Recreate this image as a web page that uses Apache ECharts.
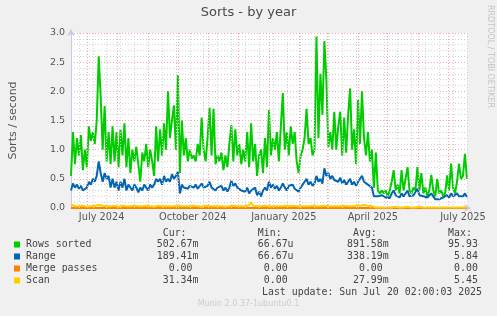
<!DOCTYPE html>
<html>
<head>
<meta charset="utf-8">
<script src="https://cdn.jsdelivr.net/npm/echarts@6/dist/echarts.min.js"></script>
<style>
  html, body { margin: 0; padding: 0; background: #f0f0f0; }
  #chart { width: 497px; height: 316px; }
</style>
</head>
<body>
<div id="chart"></div>
<script>
// munin "Sorts - by year": one sample every 2 days, starting 2024-06-15
const DAY = 86400000;
const startTime = Date.UTC(2024, 5, 15);
const endTime = Date.UTC(2025, 6, 20, 2, 0, 3);
const stepDays = 2;

const rowsSorted = [
  0.55, 1.3, 0.75, 1.2, 0.9, 1.25, 0.65, 1.0, 0.7, 1.4, 1.15, 1.3, 1.1, 1.5,
  2.6, 1.9, 1.0, 1.75, 0.8, 1.3, 0.75, 1.4, 0.8, 1.3, 0.7, 1.35, 0.9, 1.45,
  0.7, 1.2, 0.6, 1.0, 0.8, 1.05, 0.75, 0.45, 0.95, 0.8, 1.1, 0.7, 1.0, 0.8,
  0.55, 1.4, 0.8, 1.35, 0.9, 1.45, 1.0, 2.0, 1.2, 1.5, 1.76, 1.0, 2.28, 0.6,
  1.5, 0.9, 1.2, 0.8, 1.0, 0.85, 0.9, 0.8, 1.1, 0.9, 1.55, 1.0, 0.8, 1.2,
  1.72, 0.9, 1.7, 0.75, 0.9, 0.8, 0.95, 0.65, 0.9, 0.7, 1.1, 1.42, 0.8, 1.35,
  0.9, 1.1, 0.75, 1.0, 0.8, 1.3, 0.7, 1.45, 0.8, 1.1, 0.55, 0.9, 1.0, 0.6,
  1.2, 0.7, 1.68, 0.9, 1.2, 1.0, 1.3, 0.8, 1.4, 1.97, 1.0, 1.3, 0.9, 1.4,
  1.1, 1.3, 0.8, 0.6, 0.9, 1.0, 1.2, 1.7, 1.1, 1.2, 0.9, 1.0, 2.94, 1.2,
  2.3, 1.6, 2.86, 2.2, 1.05, 1.3, 1.0, 1.65, 1.0, 1.4, 1.65, 0.9, 1.55, 0.95,
  1.6, 2.05, 1.0, 1.35, 0.75, 1.85, 1.1, 2.0, 1.2, 0.9, 1.3, 0.8, 1.0, 0.35,
  0.95, 0.3, 0.25, 0.3, 0.25, 0.3, 0.2, 0.3, 0.45, 0.65, 0.3, 0.4, 0.25, 0.65,
  0.3, 0.5, 0.7, 0.3, 0.25, 0.35, 0.3, 0.7, 0.3, 0.6, 0.25, 0.35, 0.2, 0.3,
  0.57, 0.3, 0.2, 0.5, 0.25, 0.3, 0.2, 0.25, 0.56, 0.3, 0.76, 0.35, 0.25, 0.45,
  0.76, 0.5, 0.55, 0.93, 0.5
];

const range = [
  0.3, 0.42, 0.35, 0.4, 0.33, 0.38, 0.3, 0.27, 0.35, 0.45, 0.4, 0.5, 0.45, 0.55,
  0.8, 0.6, 0.45, 0.6, 0.5, 0.55, 0.35, 0.5, 0.35, 0.45, 0.3, 0.45, 0.35, 0.5,
  0.3, 0.4, 0.35, 0.3, 0.4, 0.35, 0.27, 0.35, 0.3, 0.4, 0.35, 0.3, 0.4, 0.35,
  0.4, 0.5, 0.45, 0.5, 0.4, 0.55, 0.45, 0.5, 0.45, 0.58, 0.5, 0.55, 0.62, 0.25,
  0.4, 0.35, 0.38, 0.33, 0.38, 0.35, 0.35, 0.4, 0.33, 0.36, 0.42, 0.35, 0.33, 0.38,
  0.45, 0.35, 0.38, 0.3, 0.35, 0.32, 0.38, 0.3, 0.35, 0.28, 0.35, 0.47, 0.38, 0.42,
  0.35, 0.38, 0.3, 0.33, 0.28, 0.35, 0.25, 0.3, 0.28, 0.35, 0.22, 0.28, 0.2, 0.3,
  0.35, 0.3, 0.45, 0.35, 0.4, 0.33, 0.38, 0.3, 0.35, 0.42, 0.35, 0.3, 0.38, 0.35,
  0.4, 0.33, 0.3, 0.28, 0.35, 0.4, 0.45, 0.5, 0.4, 0.45, 0.38, 0.42, 0.55, 0.45,
  0.5, 0.42, 0.68, 0.55, 0.6, 0.5, 0.55, 0.48, 0.5, 0.45, 0.52, 0.42, 0.48, 0.4,
  0.45, 0.5, 0.4, 0.45, 0.38, 0.45, 0.42, 0.55, 0.45, 0.42, 0.4, 0.38, 0.35, 0.2,
  0.17, 0.2, 0.18, 0.22, 0.2, 0.18, 0.2, 0.17, 0.25, 0.3, 0.22, 0.2, 0.18, 0.25,
  0.2, 0.22, 0.3, 0.2, 0.18, 0.22, 0.25, 0.33, 0.22, 0.25, 0.2, 0.22, 0.18, 0.2,
  0.25, 0.2, 0.15, 0.18, 0.15, 0.13, 0.18, 0.2, 0.22, 0.18, 0.25, 0.2, 0.22, 0.25,
  0.2, 0.23, 0.2, 0.25, 0.19
];

// merge passes stays at zero over the whole year
const mergeDays = [0, 400];
const mergePasses = [0, 0];

const scan = [
  0.06, 0.04, 0.03, 0.04, 0.03, 0.03, 0.04, 0.03, 0.02, 0.04, 0.03, 0.03, 0.04, 0.03, 0.05, 0.03, 0.04, 0.03, 0.03, 0.04, 0.03,
  0.03, 0.04, 0.03, 0.02, 0.03, 0.04, 0.03, 0.03, 0.02, 0.03, 0.03, 0.04, 0.03, 0.03, 0.02, 0.03, 0.03, 0.04, 0.03, 0.03,
  0.03, 0.02, 0.03, 0.04, 0.03, 0.03, 0.04, 0.03, 0.04, 0.03, 0.05, 0.03, 0.04, 0.04, 0.03, 0.03, 0.02, 0.03, 0.03, 0.03,
  0.03, 0.04, 0.03, 0.03, 0.03, 0.02, 0.03, 0.04, 0.03, 0.03, 0.04, 0.03, 0.03, 0.03, 0.04, 0.03, 0.03, 0.02, 0.03, 0.03,
  0.03, 0.04, 0.03, 0.03, 0.04, 0.03, 0.04, 0.03, 0.03, 0.05, 0.1, 0.04, 0.03, 0.03, 0.04, 0.03, 0.03, 0.04, 0.03, 0.03,
  0.04, 0.03, 0.03, 0.03, 0.04, 0.03, 0.03, 0.04, 0.03, 0.03, 0.03, 0.04, 0.03, 0.03, 0.03, 0.03, 0.04, 0.03, 0.03, 0.03,
  0.03, 0.04, 0.03, 0.03, 0.04, 0.03, 0.03, 0.04, 0.04, 0.03, 0.03, 0.03, 0.04, 0.03, 0.03, 0.03, 0.04, 0.04, 0.03, 0.03,
  0.04, 0.03, 0.04, 0.04, 0.03, 0.04, 0.05, 0.05, 0.08, 0.04, 0.04, 0.03, 0.02, 0.01, 0.01, 0.01, 0.01, 0.01, 0.01, 0.01,
  0.01, 0.01, 0.01, 0.02, 0.01, 0.01, 0.01, 0.01, 0.01, 0.02, 0.01, 0.01, 0.01, 0.01, 0.01, 0.02, 0.01, 0.01, 0.01, 0.01,
  0.01, 0.01, 0.01, 0.01, 0.02, 0.01, 0.01, 0.01, 0.01, 0.01, 0.01, 0.01, 0.02, 0.01, 0.01, 0.01, 0.01, 0.01, 0.01, 0.01
];

const monthStarts = [
  "2024-07-01", "2024-08-01", "2024-09-01", "2024-10-01", "2024-11-01", "2024-12-01", "2025-01-01",
  "2025-02-01", "2025-03-01", "2025-04-01", "2025-05-01", "2025-06-01", "2025-07-01"
];
const minorGridFrom = "2024-06-23"; // rrdtool minor grid, every 14 days
const tickLabelDates = ["2024-07-16", "2024-10-16", "2025-01-16", "2025-04-16", "2025-07-16"];
const tickLabels = ["July 2024", "October 2024", "January 2025", "April 2025", "July 2025"];

const legendNames = ["Rows sorted", "Range", "Merge passes", "Scan"];
const legendColors = ["#00cc00", "#0066b3", "#ff8000", "#ffcc00"];
const curVals = ["502.67m", "189.41m", "0.00 ", "31.34m"];
const minVals = ["66.67u", "66.67u", "0.00 ", "0.00 "];
const avgVals = ["891.58m", "338.19m", "0.00 ", "27.99m"];
const maxVals = ["95.93 ", "5.84 ", "0.00 ", "5.45 "];

const tsAt = (i) => startTime + i * stepDays * DAY;
const pairs = (vals) => vals.map((v, i) => [tsAt(i), v]);
const labelTs = tickLabelDates.map((d) => Date.parse(d));

const majorLines = monthStarts.map((d) => ({
  xAxis: Date.parse(d),
  lineStyle: { color: "#f4a6a6", type: [1, 2], width: 1 },
}));
const minorLines = [];
for (let t = Date.parse(minorGridFrom); t < endTime; t += 14 * DAY) {
  minorLines.push({ xAxis: t, lineStyle: { color: "#d2d2d2", type: [1, 2], width: 1 } });
}

const mono = "DejaVu Sans Mono";
const legendRow = (name, i) =>
  name.padEnd(22) + curVals[i].padStart(7) + minVals[i].padStart(16) + avgVals[i].padStart(16) + maxVals[i].padStart(16);
const headerRow = " ".repeat(23) + "Cur:" + " ".repeat(12) + "Min:" + " ".repeat(12) + "Avg:" + " ".repeat(12) + "Max:";
const rowY = [244.5, 256.5, 268.5, 280.5];

const graphics = [
  { type: "text", left: "center", top: 6, style: { text: "Sorts - by year", font: '13px "DejaVu Sans"', fill: "#4a4a4a" } },
  {
    type: "text", x: 494, y: 5, rotation: -Math.PI / 2,
    style: { text: "RRDTOOL / TOBI OETIKER", font: '8px "DejaVu Sans"', fill: "#c4c4c4", textVerticalAlign: "top" },
  },
  { type: "text", x: 26, y: 233, style: { text: headerRow, font: "9.9px " + mono, fill: "#444", textVerticalAlign: "middle" } },
  {
    type: "text", x: 482, y: 292,
    style: { text: "Last update: Sun Jul 20 02:00:03 2025", font: "9.9px " + mono, fill: "#444", textAlign: "right", textVerticalAlign: "middle" },
  },
  { type: "text", left: "center", top: 300, style: { text: "Munin 2.0.37-1ubuntu0.1", font: '8px "DejaVu Sans"', fill: "#cccccc" } },
];
legendNames.forEach((name, i) => {
  graphics.push({ type: "rect", shape: { x: 14, y: rowY[i] - 3, width: 6, height: 6 }, style: { fill: legendColors[i] } });
  graphics.push({
    type: "text", x: 26, y: rowY[i],
    style: { text: legendRow(name, i), font: "9.9px " + mono, fill: "#444", textVerticalAlign: "middle" },
  });
});

const lineSeries = (name, data, color) => ({
  name, type: "line", data, showSymbol: false, symbol: "none", z: 3,
  lineStyle: { color, width: 2 }, itemStyle: { color }, animation: false,
});

const chart = echarts.init(document.getElementById("chart"), null, { renderer: "canvas" });
chart.setOption({
  backgroundColor: "#f0f0f0",
  animation: false,
  grid: { left: 66, right: 30, top: 33, bottom: 108, show: true, backgroundColor: "#ffffff", borderWidth: 0 },
  xAxis: {
    type: "value",
    min: startTime,
    max: endTime,
    axisLine: { show: true, lineStyle: { color: "#c8c8ec", width: 1 }, symbol: ["none", "arrow"], symbolSize: [6, 7], symbolOffset: [0, 4] },
    axisTick: { show: false },
    splitLine: { show: false },
    axisLabel: {
      customValues: labelTs,
      color: "#555",
      fontFamily: "DejaVu Sans",
      fontSize: 9.8,
      margin: 4,
      hideOverlap: false,
      formatter: (v) => tickLabels[labelTs.indexOf(v)] || "",
    },
  },
  yAxis: {
    type: "value",
    min: 0,
    max: 3,
    interval: 0.5,
    name: "Sorts / second",
    nameLocation: "middle",
    nameGap: 52,
    nameTextStyle: { color: "#555", fontFamily: "DejaVu Sans", fontSize: 11 },
    axisLine: { show: true, lineStyle: { color: "#c8c8ec", width: 1 }, symbol: ["none", "arrow"], symbolSize: [6, 7], symbolOffset: [0, 4] },
    axisTick: { show: false },
    axisLabel: { color: "#555", fontFamily: "DejaVu Sans", fontSize: 9.5, margin: 6, formatter: (v) => v.toFixed(1) },
    splitLine: { show: true, lineStyle: { color: "#f4a6a6", type: [1, 2], width: 1 } },
    minorTick: { show: false, splitNumber: 5 },
    minorSplitLine: { show: true, lineStyle: { color: "#d2d2d2", type: [1, 2], width: 1 } },
  },
  graphic: graphics,
  series: [
    {
      type: "line", data: [], z: 1, silent: true,
      markLine: { silent: true, symbol: ["none", "none"], label: { show: false }, animation: false, data: minorLines.concat(majorLines) },
    },
    lineSeries("Rows sorted", pairs(rowsSorted), legendColors[0]),
    lineSeries("Range", pairs(range), legendColors[1]),
    lineSeries("Merge passes", mergeDays.map((d, i) => [startTime + d * DAY, mergePasses[i]]), legendColors[2]),
    lineSeries("Scan", pairs(scan), legendColors[3]),
  ],
});
</script>
</body>
</html>
